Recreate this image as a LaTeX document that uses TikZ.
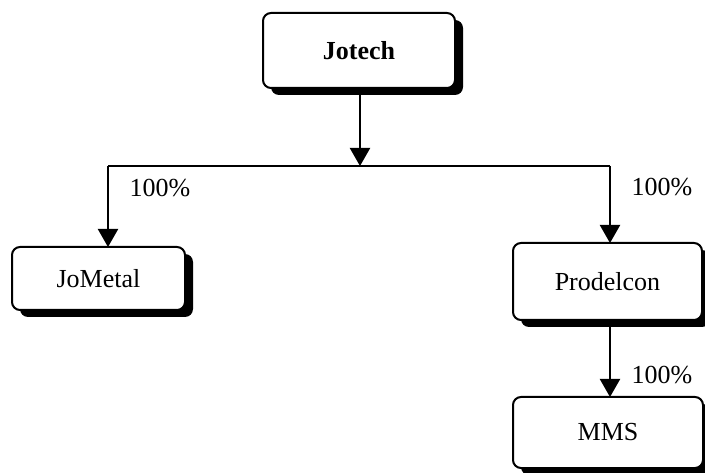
\documentclass[tikz,border=0pt]{standalone}
\usepackage{fontspec}
\setmainfont{Liberation Serif}
\usetikzlibrary{arrows.meta,shadows}
\begin{document}
\begin{tikzpicture}[x=1pt,y=-1pt,
  box/.style={draw=black, line width=2pt, fill=white, rounded corners=8pt,
    inner sep=0pt, outer sep=0pt,
    font=\fontsize{26}{30}\selectfont,
    drop shadow={shadow xshift=8pt, shadow yshift=-7pt, fill=black, opacity=1}},
  conn/.style={line width=2pt},
  arr/.style={conn, -{Triangle[width=20pt,length=18pt]}},
  pct/.style={font=\fontsize{26}{30}\selectfont, inner sep=0pt}]
\useasboundingbox (0,0) rectangle (705,473);
\node[box, minimum width=192pt, minimum height=75pt, font=\fontsize{26}{30}\selectfont\bfseries] (jotech) at (359,50.5) {Jotech};
\node[box, minimum width=173pt, minimum height=63pt] (jometal) at (98.5,278.5) {JoMetal};
\node[box, minimum width=189pt, minimum height=77pt] (prodelcon) at (607.5,281.5) {Prodelcon};
\node[box, minimum width=190pt, minimum height=71pt] (mms) at (608,432.5) {MMS};
\coordinate (j) at (360,166);
\coordinate (jl) at (108,166);
\coordinate (jr) at (610,166);
\draw[arr] (jotech.south -| j) -- (j);
\draw[conn] (jl) -- (jr);
\draw[arr] (jl) -- (jl |- jometal.north);
\draw[arr] (jr) -- (jr |- prodelcon.north);
\draw[arr] (prodelcon.south -| jr) ++(0,5) -- (mms.north -| jr);
\node[pct] (l1) at (160,188) {100\%};
\node[pct] (l2) at (662,187) {100\%};
\node[pct] (l3) at (662,375) {100\%};
\end{tikzpicture}
\end{document}
